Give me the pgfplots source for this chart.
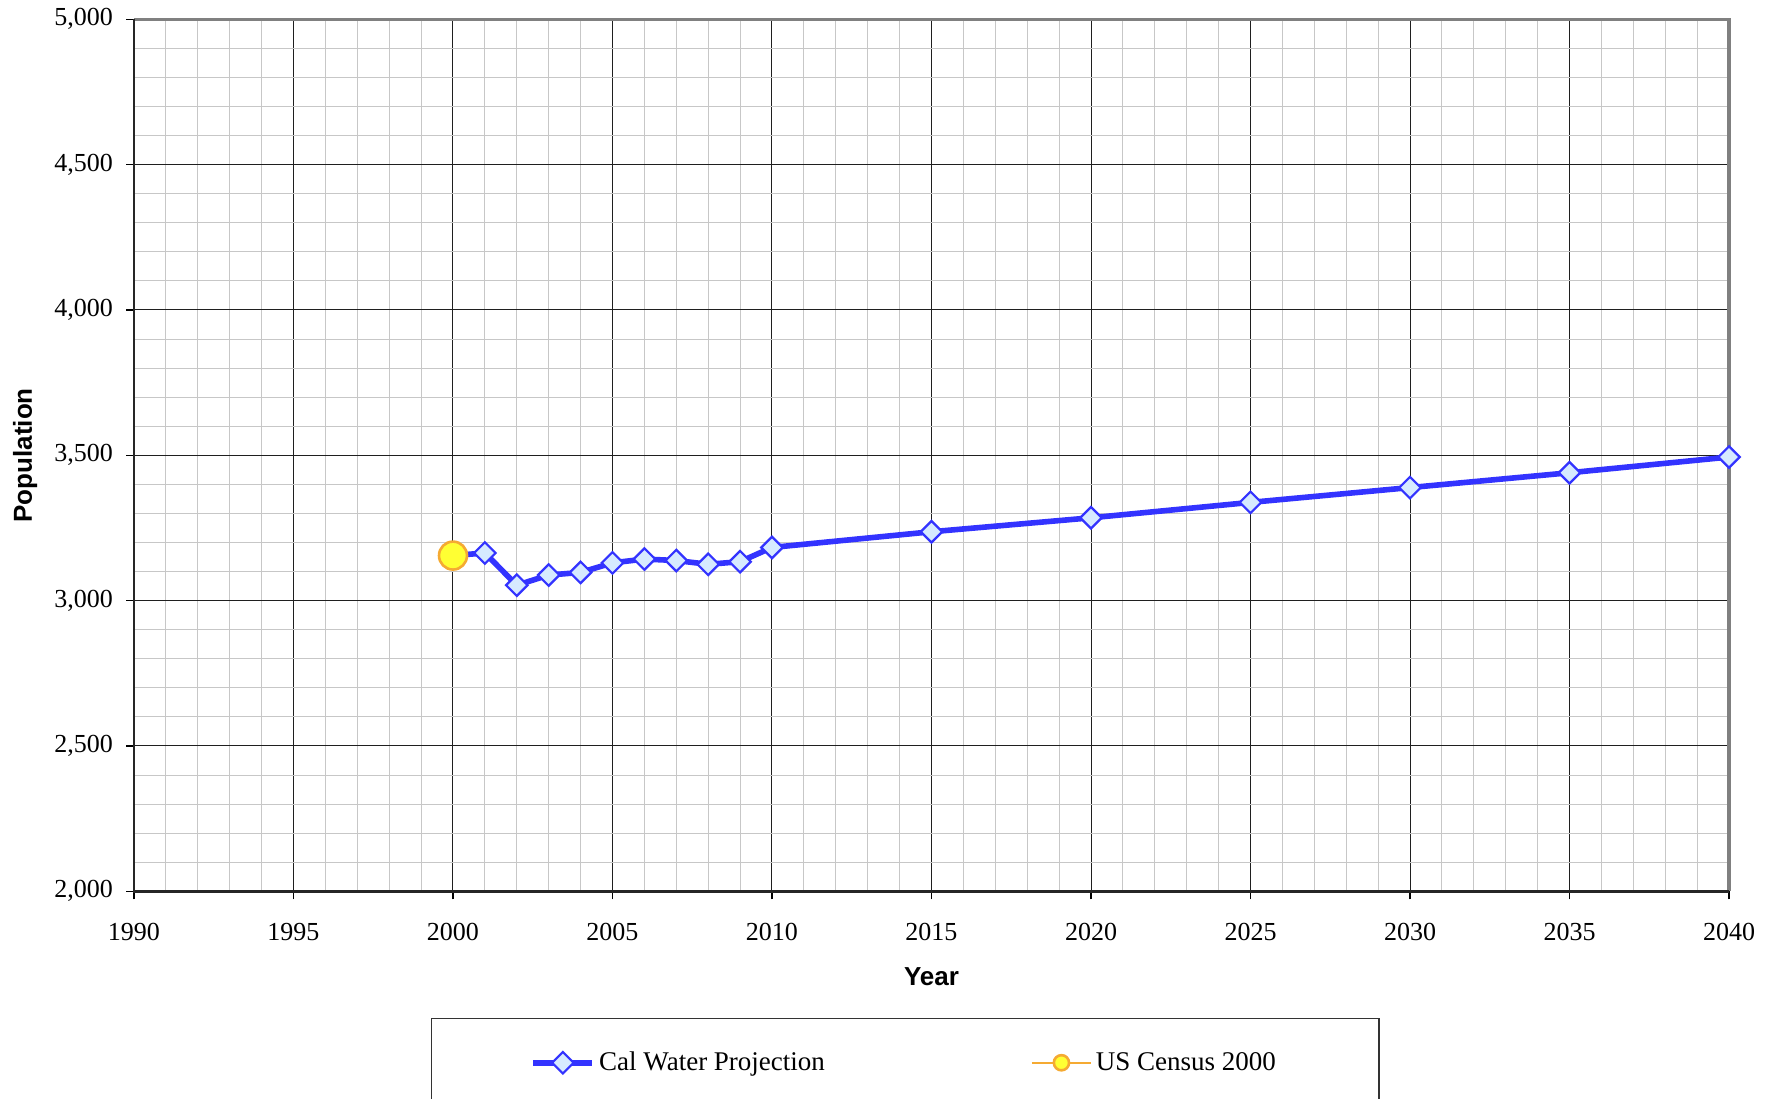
\documentclass[border=0pt]{standalone}
\usepackage{pgfplots}
\pgfplotsset{compat=1.18}
\usepackage{fontspec}
\setmainfont{Liberation Serif}
\setsansfont{Liberation Sans}
\definecolor{projblue}{RGB}{51,51,255}
\definecolor{projfill}{RGB}{214,234,255}
\definecolor{censusorange}{RGB}{245,170,50}
\definecolor{censusyellow}{RGB}{255,255,51}
\pgfplotsset{
  mylegA/.style={legend image code/.code={\draw[##1, mark repeat=2, mark phase=2] plot coordinates {(0pt,0pt) (14.75pt,0pt) (29.5pt,0pt)};}},
  mylegB/.style={legend image code/.code={\draw[##1, mark size=3.8pt, mark repeat=2, mark phase=2] plot coordinates {(0pt,0pt) (14.75pt,0pt) (29.5pt,0pt)};}},
}
\begin{document}
\begin{tikzpicture}
\begin{axis}[
  scale only axis,
  width=797.5pt, height=436pt,
  xmin=1990, xmax=2040, ymin=2000, ymax=5000,
  xtick={1990,1995,...,2040},
  ytick={2000,2500,...,5000},
  xtick pos=bottom, ytick pos=left,
  minor x tick num=4, minor y tick num=4,
  grid=both,
  major grid style={draw=black!88, line width=0.5pt},
  minor grid style={draw=black!22, line width=0.5pt},
  axis line style={draw=none},
  tick align=outside,
  major tick length=4pt, minor tick length=0pt,
  tick style={black, line width=0.6pt},
  font=\fontsize{13}{15.6}\selectfont,
  /pgf/number format/assume math mode=true,
  xticklabel style={/pgf/number format/1000 sep=, yshift=-8.5pt},
  yticklabel style={/pgf/number format/1000 sep={,}, xshift=-3pt},
  xlabel={\sffamily\bfseries Year},
  ylabel={\sffamily\bfseries Population},
  xlabel style={at={(axis description cs:0.5,-0.0975)}, anchor=center},
  ylabel style={at={(axis description cs:-0.0683,0.5)}, anchor=center},
  clip=false,
  legend columns=2,
  legend cell align=left,
  legend style={at={(0.1862,-0.1456)}, anchor=north west, draw=black!80, line width=0.6pt,
    inner xsep=49.5pt, inner ysep=14.5pt, font=\fontsize{13.5}{16}\selectfont,
    /tikz/every even column/.append style={column sep=101pt}},
]
\draw[black!50, line width=1.6pt] (rel axis cs:0,1) -- (rel axis cs:1,1) -- (rel axis cs:1,0);
\draw[black!85, line width=1.2pt] (rel axis cs:0,1) -- (rel axis cs:0,0) -- (rel axis cs:1,0);
\addplot[projblue, line width=2.8pt, mark=square*, mark size=3.8pt,
  mark options={rotate=45, fill=projfill, draw=projblue, line width=1.1pt}, mylegA]
  coordinates {
  (2000,3155) (2001,3164) (2002,3053) (2003,3088) (2004,3097) (2005,3130)
  (2006,3143) (2007,3138) (2008,3125) (2009,3134) (2010,3183) (2015,3237)
  (2020,3285) (2025,3338) (2030,3389) (2035,3440) (2040,3494)
  };
\addlegendentry{Cal Water Projection}
\addplot[censusorange, line width=1pt, mark=*, mark size=7pt,
  mark options={fill=censusyellow, draw=censusorange, line width=1.3pt}, mylegB]
  coordinates {(2000,3155)};
\addlegendentry{US Census 2000}
\end{axis}
\pgfresetboundingbox
\path[use as bounding box] (-67pt,-103.5pt) rectangle (822pt,445.65pt);
\end{tikzpicture}
\end{document}
